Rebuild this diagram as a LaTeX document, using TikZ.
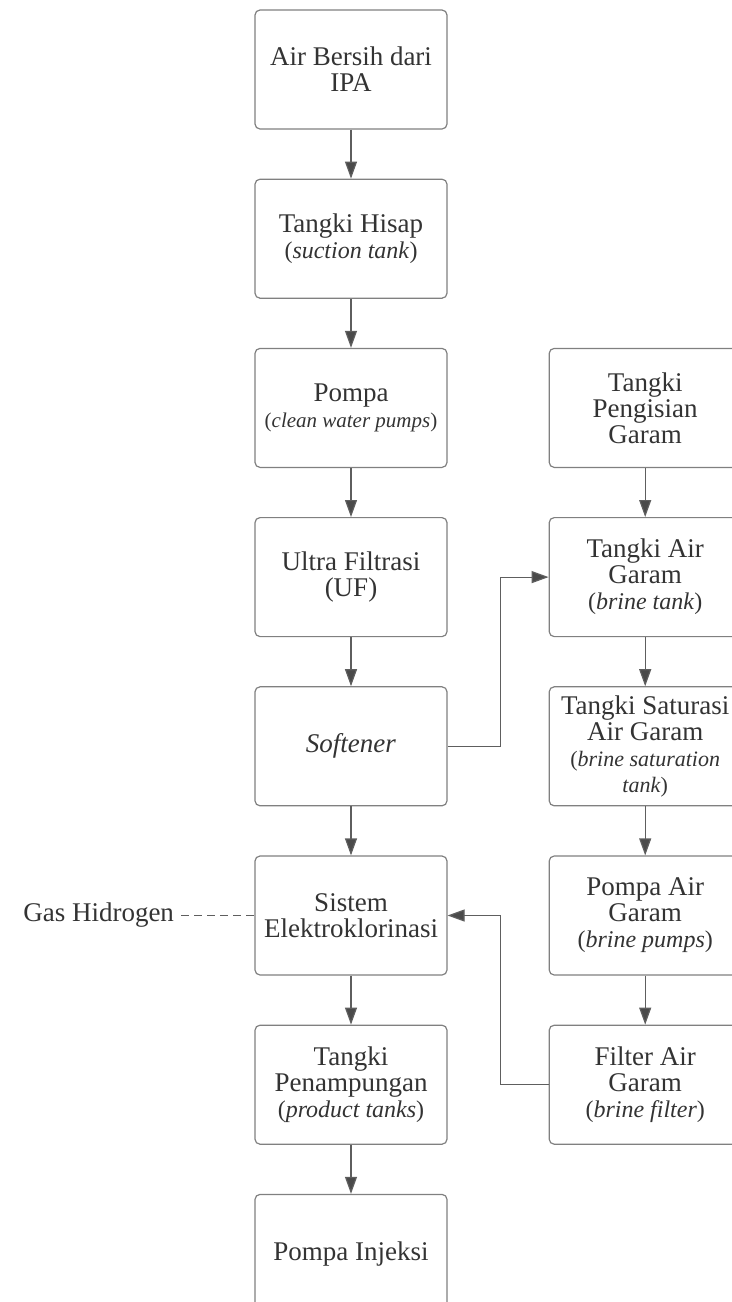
\documentclass[tikz,border=0pt]{standalone}
\usepackage{fontspec}
\setmainfont{Liberation Serif}
\usetikzlibrary{arrows.meta,positioning}

\definecolor{boxline}{HTML}{808080}
\definecolor{flowline}{HTML}{5E5E5E}
\definecolor{tipfill}{HTML}{4A4A4A}
\definecolor{inkgray}{HTML}{333333}

\newcommand{\eng}[1]{{\fontsize{12}{13}\selectfont(\textit{#1})}}
\newcommand{\engsmall}[1]{{\fontsize{10.5}{13}\selectfont(\textit{#1})}}

\begin{document}
\begin{tikzpicture}[
  node distance=24.5pt and 50.5pt,
  box/.style={draw=boxline, line width=0.6pt, rounded corners=2.5pt, align=center, text=inkgray,
    minimum width=96pt, minimum height=59.5pt, inner sep=2pt, font=\fontsize{13.5}{13}\selectfont},
  arrow/.style={-{Triangle[length=8.5pt, width=6pt, fill=tipfill]}, draw=flowline, line width=0.6pt},
  link/.style={draw=flowline, line width=0.6pt, dash pattern=on 4pt off 2.5pt}
]
\useasboundingbox (0,0) rectangle (366pt,-651pt);
\clip (0,0) rectangle (366pt,-651pt);
\node[box] (ipa) at (175.5pt,-34.75pt) {Air Bersih dari\\IPA};
\node[box, below=of ipa] (hisap) {Tangki Hisap\\\eng{suction tank}};
\node[box, below=of hisap] (pompa) {Pompa\\\engsmall{clean water pumps}};
\node[box, below=of pompa] (uf) {Ultra Filtrasi\\(UF)};
\node[box, below=of uf] (soft) {\textit{Softener}};
\node[box, below=of soft] (elektro) {Sistem\\Elektroklorinasi};
\node[box, below=of elektro] (tampung) {Tangki\\Penampungan\\\eng{product tanks}};
\node[box, below=of tampung] (injeksi) {Pompa Injeksi};
\node[box, right=of pompa] (isi) {Tangki\\Pengisian\\Garam};
\node[box, below=of isi] (brine) {Tangki Air\\Garam\\\eng{brine tank}};
\node[box, below=of brine] (satur) {Tangki Saturasi\\Air Garam\\{\fontsize{11}{13}\selectfont(\textit{brine saturation}}\\{\fontsize{11}{13}\selectfont\textit{tank})}};
\node[box, below=of satur] (bpompa) {Pompa Air\\Garam\\\eng{brine pumps}};
\node[box, below=of bpompa] (bfilter) {Filter Air\\Garam\\\eng{brine filter}};
\node[left=36.5pt of elektro, inner sep=3.5pt, text=inkgray, font=\fontsize{13.5}{13}\selectfont] (gas) {Gas Hidrogen};
\draw[arrow] (ipa) -- (hisap);
\draw[arrow] (hisap) -- (pompa);
\draw[arrow] (pompa) -- (uf);
\draw[arrow] (uf) -- (soft);
\draw[arrow] (soft) -- (elektro);
\draw[arrow] (elektro) -- (tampung);
\draw[arrow] (tampung) -- (injeksi);
\draw[arrow] (isi) -- (brine);
\draw[arrow] (brine) -- (satur);
\draw[arrow] (satur) -- (bpompa);
\draw[arrow] (bpompa) -- (bfilter);
\draw[arrow] (soft.east) -- ++(26.5pt,0) |- (brine.west);
\draw[arrow] (bfilter.west) -- ++(-24pt,0) |- (elektro.east);
\draw[link] (gas.east) -- (elektro.west);
\end{tikzpicture}
\end{document}
